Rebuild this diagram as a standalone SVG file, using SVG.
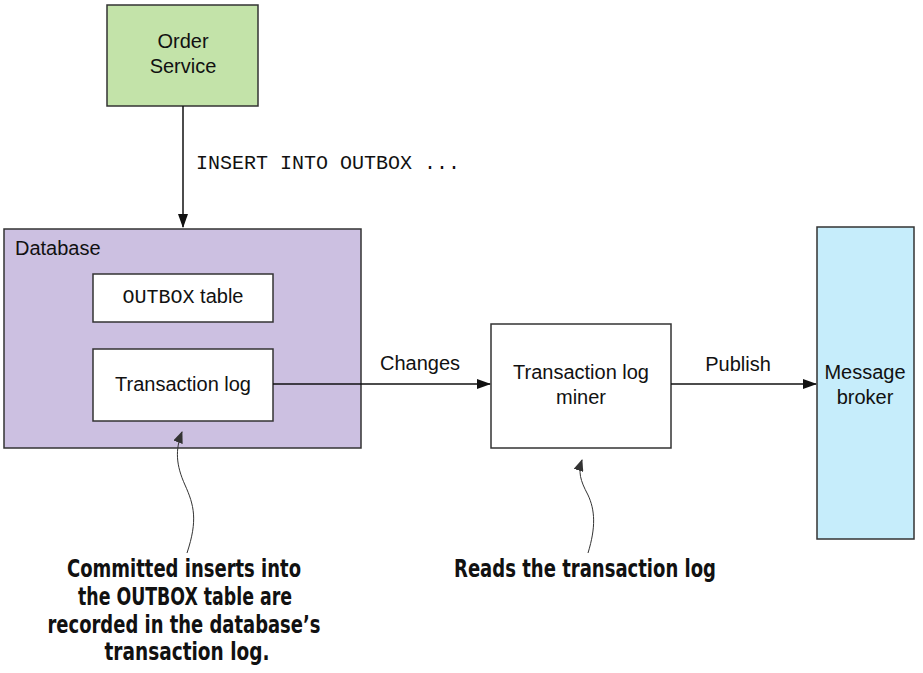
<svg xmlns="http://www.w3.org/2000/svg" width="923" height="673" viewBox="0 0 923 673">
<style>
.box{stroke:#333;stroke-width:1.5}
.lbl{font-family:"Liberation Sans",Arial,sans-serif;font-size:20px;fill:#111}
.mono{font-family:"Liberation Mono","Courier New",monospace;font-size:20px;fill:#111}
.note{font-family:"DejaVu Sans Condensed","DejaVu Sans",sans-serif;font-weight:bold;font-size:25px;fill:#111}
.conn{stroke:#111;stroke-width:1.5;fill:none}
.curl{stroke:#333;stroke-width:1;fill:none}
</style>
<defs>
<marker id="ah" markerWidth="14" markerHeight="10" refX="13" refY="5" orient="auto" markerUnits="userSpaceOnUse">
<path d="M0,0 L14,5 L0,10 Z" fill="#111"/>
</marker>
<marker id="ch" markerWidth="12" markerHeight="10" refX="11" refY="5" orient="auto" markerUnits="userSpaceOnUse">
<path d="M0,0 L12,5 L0,10 Z" fill="#333"/>
</marker>
</defs>
<rect width="923" height="673" fill="#fff"/>
<g id="order-service">
<rect class="box" x="107" y="5" width="151" height="101" fill="#c3e3a9"/>
<text class="lbl" x="183" y="48" text-anchor="middle">Order</text>
<text class="lbl" x="183" y="73" text-anchor="middle">Service</text>
</g>
<g id="database">
<rect class="box" x="4" y="229" width="357" height="219" fill="#ccc0e1"/>
<text class="lbl" x="15" y="255">Database</text>
</g>
<g id="outbox-table">
<rect class="box" x="93" y="274" width="180" height="48" fill="#fff"/>
<text x="183" y="303" text-anchor="middle"><tspan class="mono">OUTBOX</tspan><tspan class="lbl"> table</tspan></text>
</g>
<g id="transaction-log">
<rect class="box" x="93" y="349" width="180" height="72" fill="#fff"/>
<text class="lbl" x="183" y="391" text-anchor="middle">Transaction log</text>
</g>
<g id="miner">
<rect class="box" x="491" y="324" width="180" height="124" fill="#fff"/>
<text class="lbl" x="581" y="379" text-anchor="middle">Transaction log</text>
<text class="lbl" x="581" y="404" text-anchor="middle">miner</text>
</g>
<g id="message-broker">
<rect class="box" x="817" y="227" width="97" height="312" fill="#c6edfb"/>
<text class="lbl" x="865" y="379" text-anchor="middle">Message</text>
<text class="lbl" x="865" y="404" text-anchor="middle">broker</text>
</g>
<g id="connectors">
<line class="conn" x1="183" y1="106" x2="183" y2="227" marker-end="url(#ah)"/>
<text class="mono" x="196" y="169">INSERT INTO OUTBOX ...</text>
<line class="conn" x1="273" y1="384" x2="490" y2="384" marker-end="url(#ah)"/>
<text class="lbl" x="420" y="370" text-anchor="middle">Changes</text>
<line class="conn" x1="671" y1="384" x2="816" y2="384" marker-end="url(#ah)"/>
<text class="lbl" x="738" y="371" text-anchor="middle">Publish</text>
<path class="curl" d="M187,553 C198,520 194,505 185,485 C176,465 175,450 182,432" marker-end="url(#ch)"/>
<path class="curl" d="M588,553 C596,527 595,510 588,495 C580,480 578,472 582,460" marker-end="url(#ch)"/>
</g>
<g id="annotations">
<text class="note" x="184" y="577" text-anchor="middle" textLength="234" lengthAdjust="spacingAndGlyphs">Committed inserts into</text>
<text class="note" x="185" y="605" text-anchor="middle" textLength="214" lengthAdjust="spacingAndGlyphs">the OUTBOX table are</text>
<text class="note" x="184" y="633" text-anchor="middle" textLength="273" lengthAdjust="spacingAndGlyphs">recorded in the database’s</text>
<text class="note" x="187" y="660" text-anchor="middle" textLength="165" lengthAdjust="spacingAndGlyphs">transaction log.</text>
<text class="note" x="585" y="577" text-anchor="middle" textLength="262" lengthAdjust="spacingAndGlyphs">Reads the transaction log</text>
</g>
</svg>
